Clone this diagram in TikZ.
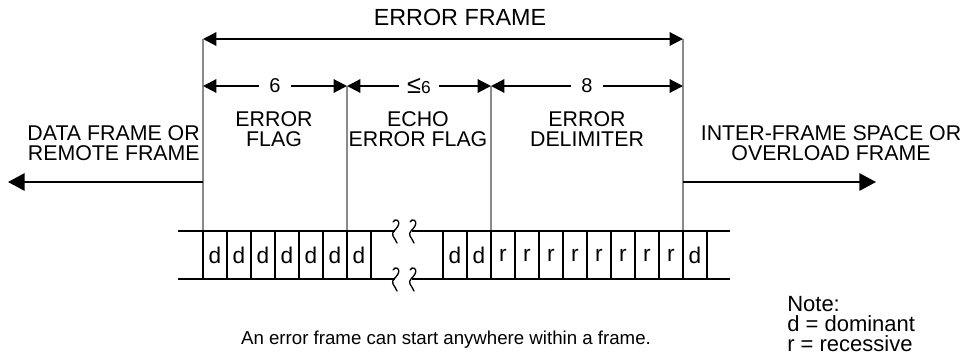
\documentclass[tikz,border=0pt]{standalone}
\usepackage{fontspec}
\setmainfont{Liberation Sans}
\usetikzlibrary{arrows.meta,positioning,calc}
\definecolor{FrameGray}{HTML}{8A8A8A}
\definecolor{FrameInk}{HTML}{000000}
\tikzset{
  dimarrow/.style={{Triangle[length=10pt,width=10pt]}-{Triangle[length=10pt,width=10pt]},line width=1.6pt,draw=FrameInk},
  sidearrow/.style={-{Triangle[length=12.5pt,width=13pt]},line width=1.6pt,draw=FrameInk},
  boundary/.style={line width=1.2pt,draw=FrameGray},
  tapeline/.style={line width=1.2pt,draw=FrameInk},
  squiggle/.style={line width=1pt,draw=FrameInk,line cap=round},
  bitcell/.style={draw=FrameInk,line width=1.2pt,minimum width=18pt,minimum height=36pt,inner sep=0pt,font=\fontsize{17}{17}\selectfont},
  numlabel/.style={fill=white,inner xsep=8pt,inner ysep=1pt,font=\fontsize{15}{15}\selectfont},
  fieldlabel/.style={align=center,inner sep=0pt,font=\fontsize{16}{15}\selectfont},
  notetext/.style={inner sep=0pt,font=\fontsize{14}{14}\selectfont}
}
\begin{document}
\begin{tikzpicture}[x=0.75pt,y=-0.75pt]
\useasboundingbox (0,0) rectangle (966,358);
% field boundaries
\coordinate (t1) at (203,39);
\coordinate (t4) at (683,39);
\coordinate (b1) at (203,86);
\coordinate (b2) at (347,86);
\coordinate (b3) at (491,86);
\coordinate (b4) at (683,86);
\coordinate (g1) at (203,231);
\coordinate (g2) at (347,231);
\coordinate (g3) at (491,231);
\coordinate (g4) at (683,231);
\draw[boundary] (t1) -- (g1);
\draw[boundary] (b2) -- (g2);
\draw[boundary] (b3) -- (g3);
\draw[boundary] (t4) -- (g4);

% dimension arrows
\node[font=\fontsize{17.5}{18}\selectfont,inner sep=0pt] (eframe) at (460,17) {ERROR FRAME};
\draw[dimarrow] (t1) -- (t4);
\draw[dimarrow] (b1) -- node[numlabel] (n6) {6} (b2);
\draw[dimarrow] (b2) -- node[numlabel,inner xsep=6pt] (nle6) {{\fontsize{19}{19}\selectfont ≤}{\fontsize{13}{13}\selectfont 6}} (b3);
\draw[dimarrow] (b3) -- node[numlabel] (n8) {8} (b4);

% field names
\node[fieldlabel] (flag) at (274,129.5) {ERROR\\FLAG};
\node[fieldlabel] (echo) at (418,129.5) {ECHO\\ERROR FLAG};
\node[fieldlabel] (delim) at (587,129.5) {ERROR\\DELIMITER};
\node[fieldlabel,align=right,anchor=east] (prev) at (200,143) {DATA FRAME OR\\REMOTE FRAME};
\node[fieldlabel] (next) at (831,143.5) {INTER-FRAME SPACE OR\\OVERLOAD FRAME};

% neighbouring frames
\coordinate (s1) at (203,182);
\coordinate (lhs) at (8,182);
\coordinate (s4) at (683,182);
\coordinate (rhs) at (876,182);
\draw[sidearrow] (s1) -- (lhs);
\draw[sidearrow] (s4) -- (rhs);

% bit stream
\foreach \i [count=\k] in {0,...,6}
  \node[bitcell] (c\k) at (215+24*\i,255) {d};
\foreach \x/\b [count=\k] in {455/d,479/d,503/r,527/r,551/r,575/r,599/r,623/r,647/r,671/r,695/d}
  \node[bitcell] (e\k) at (\x,255) {\b};
\draw[tapeline] (178,231) -- (395,231) (412,231) -- (730,231);
\draw[tapeline] (178,279) -- (395,279) (412,279) -- (730,279);
\foreach \sx in {396,413}
  \foreach \sy in {231,279}
    \draw[squiggle] (\sx-3,\sy-9) .. controls (\sx-1,\sy-13) and (\sx+5,\sy-11) .. (\sx+2,\sy-5)
      .. controls (\sx,\sy-1) and (\sx-5,\sy+1) .. (\sx-3,\sy+5)
      .. controls (\sx-2,\sy+8) and (\sx+1,\sy+10) .. (\sx+1,\sy+12);

% remarks
\node[notetext] (hint) at (446,340) {An error frame can start anywhere within a frame.};
\node[notetext,align=left,anchor=north west,font=\fontsize{16.5}{15}\selectfont] (legend) at (787,296) {Note:\\d = dominant\\r = recessive};
\end{tikzpicture}
\end{document}
